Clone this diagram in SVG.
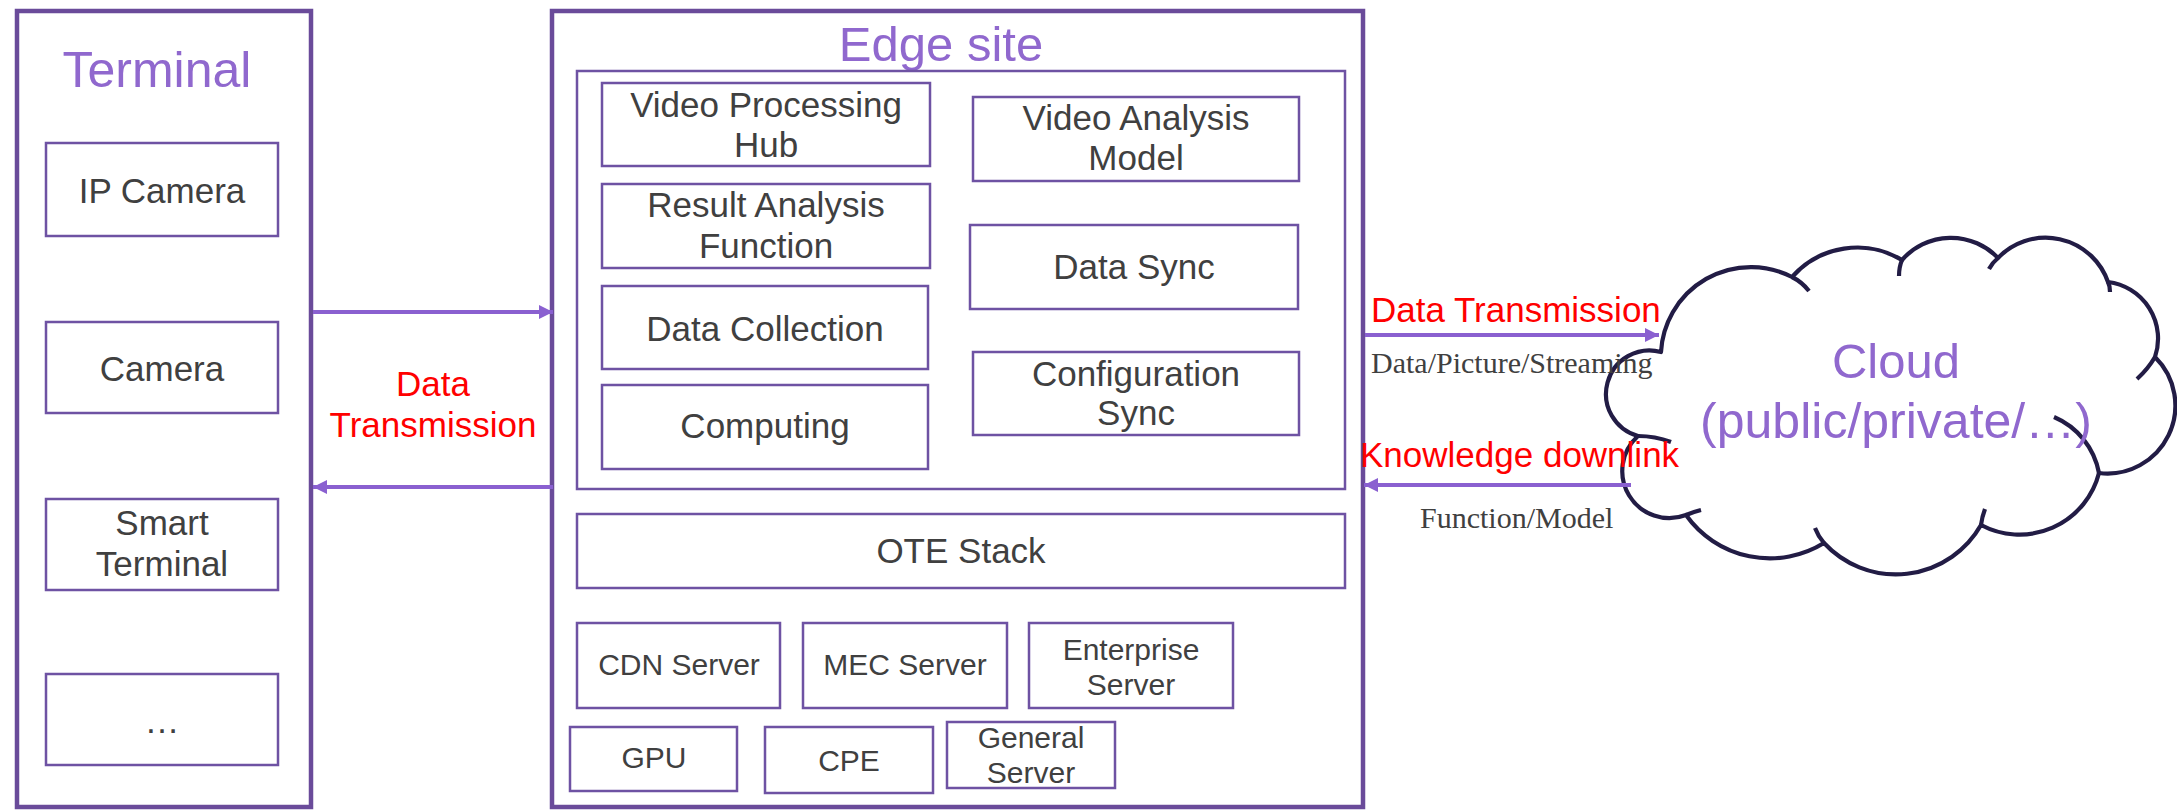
<svg xmlns="http://www.w3.org/2000/svg" width="2177" height="811" viewBox="0 0 2177 811">
<style>
.outer{fill:#fff;stroke:#6A4B9A;stroke-width:4.5}
.box{fill:#fff;stroke:#6E52A3;stroke-width:2.5}
.t{font-family:"Liberation Sans",Arial,sans-serif;fill:#404040;text-anchor:middle}
.m{font-size:35px}
.s{font-size:30px}
.title{font-family:"Liberation Sans",Arial,sans-serif;fill:#9068CE;text-anchor:middle;font-size:50px}
.red{font-family:"Liberation Sans",Arial,sans-serif;fill:#FF0000;font-size:35px}
.serif{font-family:"Liberation Serif","Times New Roman",serif;fill:#404040;font-size:30px}
.arrow{stroke:#8A60D0;stroke-width:4;fill:none;marker-end:url(#ah)}
.cloud{fill:#fff;stroke:#221C45;stroke-width:4.2;stroke-linejoin:round}
.crease{fill:none;stroke:#221C45;stroke-width:4.2;stroke-linecap:butt}
</style>
<defs>
<marker id="ah" markerUnits="userSpaceOnUse" markerWidth="16" markerHeight="16" refX="14" refY="7" orient="auto">
<path d="M0,0 L14,7 L0,14 z" fill="#8A60D0"/>
</marker>
</defs>

<g id="terminal">
<rect class="outer" x="17" y="11" width="294" height="796"/>
<text class="title" x="157" y="87">Terminal</text>
</g>
<g id="ip-camera"><rect class="box" x="46" y="143" width="232" height="93"/><text class="t m" x="162" y="203">IP Camera</text></g>
<g id="camera"><rect class="box" x="46" y="322" width="232" height="91"/><text class="t m" x="162" y="381">Camera</text></g>
<g id="smart-terminal"><rect class="box" x="46" y="499" width="232" height="91"/><text class="t m" x="162" y="535">Smart</text><text class="t m" x="162" y="576">Terminal</text></g>
<g id="more-terminals"><rect class="box" x="46" y="674" width="232" height="91"/><text class="t m" x="162" y="733">…</text></g>

<g id="edge-site">
<rect class="outer" x="552" y="11" width="811" height="796"/>
<text class="title" x="941" y="61" style="font-size:49px">Edge site</text>
<rect class="box" x="577" y="71" width="768" height="418"/>
</g>
<g id="video-processing-hub"><rect class="box" x="602" y="83" width="328" height="83"/><text class="t m" x="766" y="117">Video Processing</text><text class="t m" x="766" y="157">Hub</text></g>
<g id="video-analysis-model"><rect class="box" x="973" y="97" width="326" height="84"/><text class="t m" x="1136" y="130">Video Analysis</text><text class="t m" x="1136" y="170">Model</text></g>
<g id="result-analysis-function"><rect class="box" x="602" y="184" width="328" height="84"/><text class="t m" x="766" y="217">Result Analysis</text><text class="t m" x="766" y="258">Function</text></g>
<g id="data-sync"><rect class="box" x="970" y="225" width="328" height="84"/><text class="t m" x="1134" y="279">Data Sync</text></g>
<g id="data-collection"><rect class="box" x="602" y="286" width="326" height="83"/><text class="t m" x="765" y="341">Data Collection</text></g>
<g id="configuration-sync"><rect class="box" x="973" y="352" width="326" height="83"/><text class="t m" x="1136" y="386">Configuration</text><text class="t m" x="1136" y="425">Sync</text></g>
<g id="computing"><rect class="box" x="602" y="385" width="326" height="84"/><text class="t m" x="765" y="438">Computing</text></g>
<g id="ote-stack"><rect class="box" x="577" y="514" width="768" height="74"/><text class="t m" x="961" y="563">OTE Stack</text></g>
<g id="cdn-server"><rect class="box" x="577" y="623" width="203" height="85"/><text class="t s" x="679" y="675">CDN Server</text></g>
<g id="mec-server"><rect class="box" x="803" y="623" width="204" height="85"/><text class="t s" x="905" y="675">MEC Server</text></g>
<g id="enterprise-server"><rect class="box" x="1029" y="623" width="204" height="85"/><text class="t s" x="1131" y="660">Enterprise</text><text class="t s" x="1131" y="695">Server</text></g>
<g id="gpu"><rect class="box" x="570" y="727" width="167" height="64"/><text class="t s" x="654" y="768">GPU</text></g>
<g id="cpe"><rect class="box" x="765" y="727" width="168" height="66"/><text class="t s" x="849" y="771">CPE</text></g>
<g id="general-server"><rect class="box" x="947" y="722" width="168" height="66"/><text class="t s" x="1031" y="748">General</text><text class="t s" x="1031" y="783">Server</text></g>

<g id="cloud">
<path class="cloud" d="M1661,352 A90,90 0 0 1 1792,277 A87,87 0 0 1 1902,260 A65,65 0 0 1 1998,258 A66,66 0 0 1 2108,282 A57,57 0 0 1 2155,357 A68,68 0 0 1 2099,473 A82,82 0 0 1 1981,525 A98,98 0 0 1 1824,543 A103,103 0 0 1 1686,515 A47,47 0 0 1 1638,436 A42,42 0 0 1 1661,352 Z"/>
<path class="crease" d="M1792,277 Q1802,282 1809,291 M1902,260 Q1899,267 1899,276 M1998,258 Q1992,263 1989,269 M2108,282 Q2110,286 2110,292 M2155,357 Q2148,369 2137,379 M2099,473 A76,76 0 0 0 2054,417 M1981,525 Q1982,517 1985,509 M1824,543 Q1818,536 1815,528 M1686,515 Q1693,512 1701,510 M1638,436 Q1655,436 1671,442"/>
<text class="title" x="1896" y="378" style="font-size:49px">Cloud</text>
<text class="title" x="1896" y="438">(public/private/…)</text>
</g>

<g id="connectors">
<line class="arrow" x1="313" y1="312" x2="553" y2="312"/>
<line class="arrow" x1="553" y1="487" x2="313" y2="487"/>
<line class="arrow" x1="1365" y1="335" x2="1659" y2="335"/>
<line class="arrow" x1="1631" y1="485" x2="1364" y2="485"/>
<text class="red" x="433" y="396" text-anchor="middle">Data</text>
<text class="red" x="433" y="437" text-anchor="middle">Transmission</text>
<text class="red" x="1371" y="322">Data Transmission</text>
<text class="serif" x="1371" y="373">Data/Picture/Streaming</text>
<text class="red" x="1360" y="467">Knowledge downlink</text>
<text class="serif" x="1420" y="528">Function/Model</text>
</g>
</svg>
